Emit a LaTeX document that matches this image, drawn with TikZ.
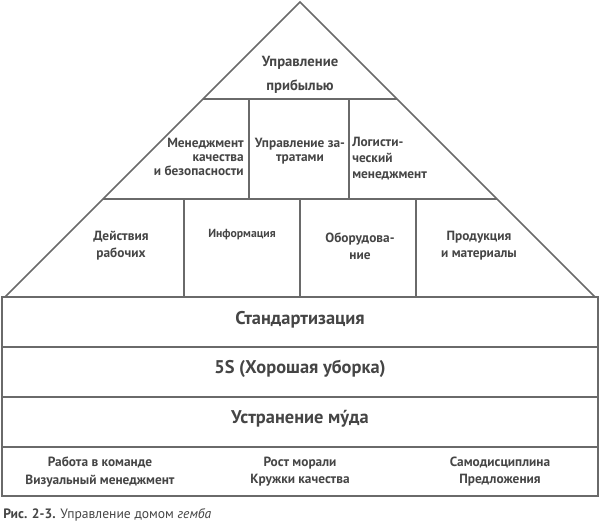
\documentclass[tikz,border=0pt]{standalone}
\usepackage{fontspec}
\setmainfont{PT Sans}
\usetikzlibrary{calc}
\definecolor{linegray}{HTML}{6A6A6A}
\definecolor{textgray}{HTML}{454545}
\begin{document}
\begin{tikzpicture}
        [x=0.75pt,y=-0.75pt,
        linedecorate/.style={draw=linegray,line width=1.3pt},
        labeldecorate/.style={text=textgray,inner sep=0pt,align=center,font=\bfseries\fontsize{10}{10.5}\selectfont},%
        toplabel/.style={labeldecorate,font=\bfseries\fontsize{11}{18}\selectfont},
        rowlabel/.style={labeldecorate,font=\bfseries\fontsize{10}{12.8}\selectfont},
        stripelabel/.style={labeldecorate,font=\bfseries\fontsize{13.8}{16}\selectfont},
        footlabel/.style={labeldecorate,font=\bfseries\fontsize{10}{12.8}\selectfont}]
        \useasboundingbox (0,0) rectangle (600,527);
        %% pyramid outline
        \coordinate (apex) at (300,2);
        \coordinate (baseleft) at (5,297);
        \coordinate (baseright) at (595,297);
        \draw[linedecorate] (baseleft) -- (apex) -- (baseright);
        %% floors of the pyramid
        \foreach \floorname/\t in {upper/0.329, lower/0.668}
        {
          \coordinate (\floorname left) at ($(apex)!\t!(baseleft)$);
          \coordinate (\floorname right) at ($(apex)!\t!(baseright)$);
          \draw[linedecorate] (\floorname left) -- (\floorname right);
        }
        %% walls between the rooms
        \foreach \x in {249,349}
          \draw[linedecorate] (\x,99) -- (\x,199);
        \foreach \x in {184,300,416}
          \draw[linedecorate] (\x,199) -- (\x,297);
        %% foundation
        \draw[linedecorate] (2,297) rectangle (598,496);
        \foreach \y in {347,397,447}
          \draw[linedecorate] (2,\y) -- (598,\y);
        %% rooms
        \node (profit) at (300,75) [toplabel] {Управление\\прибылью};
        \node (quality) at (244,157) [labeldecorate,anchor=east,align=right] {Менеджмент\\качества\\и безопасности};
        \node (costs) at (300,151) [labeldecorate] {Управление за-\\тратами};
        \node (logistics) at (352,159) [labeldecorate,anchor=west,align=left,font=\bfseries\fontsize{10}{12}\selectfont] {Логисти-\\ческий\\менеджмент};
        \foreach \nodename/\x/\y/\txt in {workers/121/246/{Действия\\рабочих},
          info/242/235/{\fontsize{8.8}{10}\selectfont Информация}, equipment/360/246/{Оборудова-\\ние},
          products/479/246/{Продукция\\и материалы}}
        {
          \node (\nodename) at (\x,\y) [rowlabel] {\txt};
        }
        %% foundation layers
        \foreach \nodename/\y/\txt in {standard/320/Стандартизация,
          fives/369/{5S (Хорошая уборка)}, muda/419/{Устранение му́да}}
        {
          \node (\nodename) at (300,\y) [stripelabel] {\txt};
        }
        \foreach \nodename/\x/\txt in {team/100/{Работа в команде\\Визуальный менеджмент},
          morale/300/{Рост морали\\Кружки качества}, discipline/500/{Самодисциплина\\Предложения}}
        {
          \node (\nodename) at (\x,472) [footlabel] {\txt};
        }
        %% caption
        \node (caption) at (3,518) [anchor=base west,inner sep=0pt,text=textgray,font=\fontsize{10.2}{12}\selectfont]
          {\textbf{Рис. 2-3.} Управление домом \textit{гемба}};
      \end{tikzpicture}
\end{document}
